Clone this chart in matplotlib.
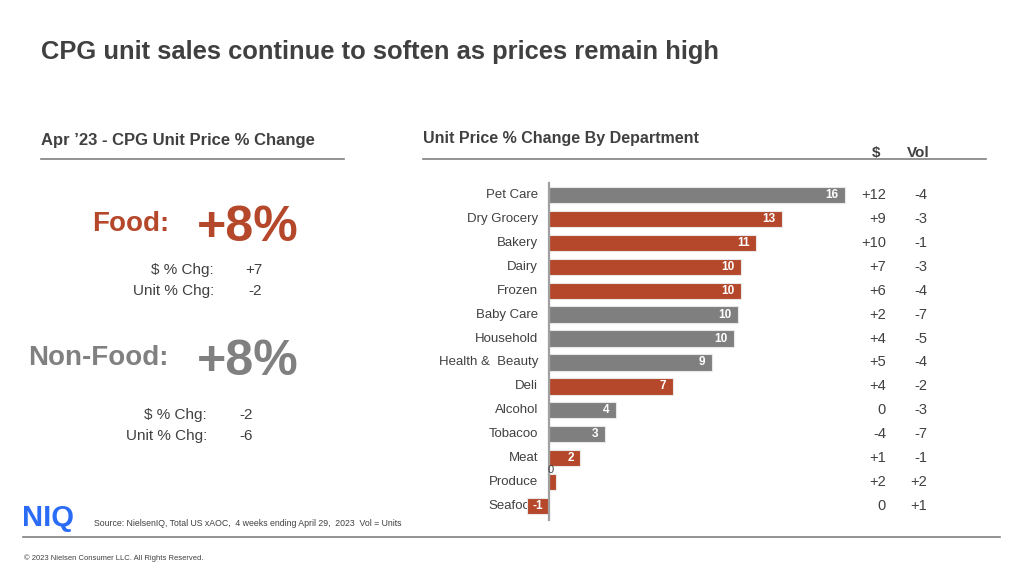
import matplotlib
matplotlib.use("Agg")
import matplotlib.pyplot as plt
from matplotlib.transforms import blended_transform_factory

plt.rcParams['font.family'] = ['Liberation Sans', 'DejaVu Sans']

# department data (unit price % change, $ % chg, vol % chg)
departments = ["Pet Care", "Dry Grocery", "Bakery", "Dairy", "Frozen", "Baby Care",
               "Household", "Health &  Beauty", "Deli", "Alcohol", "Tobacoo", "Meat",
               "Produce", "Seafood"]
unit_price = [16.0, 12.6, 11.2, 10.4, 10.4, 10.2, 10.0, 8.8, 6.7, 3.6, 3.0, 1.7, 0.4, -1.2]
price_labels = ["16", "13", "11", "10", "10", "10", "10", "9", "7", "4", "3", "2", "0", "-1"]
is_food = [False, True, True, True, True, False, False, False, True, False, False, True, True, True]
dollar_chg = ["+12", "+9", "+10", "+7", "+6", "+2", "+4", "+5", "+4", "0", "-4", "+1", "+2", "0"]
vol_chg = ["-4", "-3", "-1", "-3", "-4", "-7", "-5", "-4", "-2", "-3", "-7", "-1", "+2", "+1"]

# left panel summary
summary_groups = ["Food:", "Non-Food:"]
summary_total = ["+8%", "+8%"]
summary_dollar = ["+7", "-2"]
summary_unit = ["-2", "-6"]

ORANGE = "#B5472A"
GRAY = "#808080"
TEXT = "#404040"

W, H = 1024, 575
fig = plt.figure(figsize=(W / 100, H / 100), dpi=100)


def px(x, y):
    return x / W, 1 - y / H


def ftext(x, y, s, **kw):
    fx, fy = px(x, y)
    fig.text(fx, fy, s, **kw)


def hline(x0, x1, y, color="#808080", lw=1.2):
    fx0, fy = px(x0, y)
    fx1, _ = px(x1, y)
    fig.add_artist(plt.Line2D([fx0, fx1], [fy, fy], color=color, lw=lw,
                              transform=fig.transFigure))


# title
ftext(41, 52, "CPG unit sales continue to soften as prices remain high",
      fontsize=18.4, fontweight="bold", color=TEXT, va="center")

# left panel
ftext(41, 140, "Apr \u201923 - CPG Unit Price % Change", fontsize=12,
      fontweight="bold", color=TEXT, va="center")
hline(41, 344, 159)

colors_left = [ORANGE, GRAY]
group_y = [224, 358]
for i, g in enumerate(summary_groups):
    y = group_y[i]
    ftext(169, y, g, fontsize=20, fontweight="bold", color=colors_left[i],
          ha="right", va="center")
    ftext(197, y + 4, summary_total[i], fontsize=36, fontweight="bold",
          color=colors_left[i], va="center")

sub_rows = [(270, 291, 214, 262), (415, 436, 207, 253)]
for i in range(2):
    y1, y2, xr, xv = sub_rows[i]
    ftext(xr, y1, "$ % Chg:", fontsize=11, color=TEXT, ha="right", va="center")
    ftext(xr, y2, "Unit % Chg:", fontsize=11, color=TEXT, ha="right", va="center")
    ftext(xv, y1, summary_dollar[i], fontsize=11, color=TEXT, ha="right", va="center")
    ftext(xv, y2, summary_unit[i], fontsize=11, color=TEXT, ha="right", va="center")

# right panel header
ftext(423, 139, "Unit Price % Change By Department", fontsize=11.5,
      fontweight="bold", color=TEXT, va="center")
ftext(876, 153, "$", fontsize=11, fontweight="bold", color=TEXT, ha="center", va="center")
ftext(918, 153, "Vol", fontsize=11, fontweight="bold", color=TEXT, ha="center", va="center")
hline(423, 986, 159)

# bar chart axes: zero at x=549px, 18.5 px per unit; rows 23.92 px apart from y=195
x_left, x_right = 521.25, 854.25
y_top, y_bot = 180.6, 520.4
ax = fig.add_axes([x_left / W, 1 - y_bot / H, (x_right - x_left) / W, (y_bot - y_top) / H])
ax.set_xlim(-1.5, 16.5)
ax.set_ylim(len(departments) - 1 + 0.6, -0.6)
ax.axis("off")

ypos = list(range(len(departments)))
bar_colors = [ORANGE if f else "#7F7F7F" for f in is_food]
ax.barh(ypos, unit_price, height=0.68, color=bar_colors, edgecolor="#E8E8E8",
        linewidth=0.8, zorder=2)
ax.plot([0, 0], [-0.5, len(departments) - 0.4], color="#A0A0A0", lw=1.6, zorder=3,
        clip_on=False)

for i, name in enumerate(departments):
    ax.text(-0.6, i, name, ha="right", va="center", fontsize=9.5, color=TEXT, zorder=1)
    v = unit_price[i]
    if v >= 1:
        ax.text(v - 0.35, i, price_labels[i], ha="right", va="center", fontsize=8.5,
                fontweight="bold", color="white", zorder=4)
    elif v < 0:
        ax.text(v / 2, i, price_labels[i], ha="center", va="center", fontsize=8.5,
                fontweight="bold", color="white", zorder=4)
    else:
        ax.text(0.1, i - 0.5, price_labels[i], ha="center", va="center", fontsize=8,
                color=TEXT, zorder=4)

tr = blended_transform_factory(fig.transFigure, ax.transData)
for i in ypos:
    ax.text(886 / W, i, dollar_chg[i], transform=tr, ha="right", va="center",
            fontsize=10.5, color=TEXT)
    ax.text(927 / W, i, vol_chg[i], transform=tr, ha="right", va="center",
            fontsize=10.5, color=TEXT)

# footer
ftext(22, 518, "NIQ", fontsize=21, fontweight="heavy", color="#2B6CF6", va="center")
ftext(94, 523, "Source: NielsenIQ, Total US xAOC,  4 weeks ending April 29,  2023  Vol = Units",
      fontsize=6.3, color=TEXT, va="center")
hline(23, 1000, 537, color="#808080", lw=1.2)
ftext(24, 558, "\u00a9 2023 Nielsen Consumer LLC. All Rights Reserved.",
      fontsize=5.5, color=TEXT, va="center")

fig.savefig("out.png", dpi=100, facecolor="white")
